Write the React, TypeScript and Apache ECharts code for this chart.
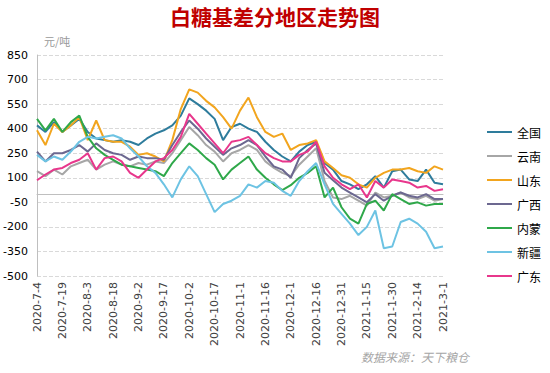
import React, { useEffect, useRef } from 'react';
import * as echarts from 'echarts';

const titleText = '白糖基差分地区走势图';
const unitText = '元/吨';
const sourceText = '数据来源：天下粮仓';
const startDate = '2020-07-04';
const endDate = '2021-03-01';

const dates = [
  '2020-07-04', '2020-07-09', '2020-07-14', '2020-07-19', '2020-07-24', '2020-07-29',
  '2020-08-03', '2020-08-08', '2020-08-13', '2020-08-18', '2020-08-23', '2020-08-28',
  '2020-09-02', '2020-09-07', '2020-09-12', '2020-09-17', '2020-09-22', '2020-09-27',
  '2020-10-02', '2020-10-07', '2020-10-12', '2020-10-17', '2020-10-22', '2020-10-27',
  '2020-11-01', '2020-11-06', '2020-11-11', '2020-11-16', '2020-11-21', '2020-11-26',
  '2020-12-01', '2020-12-06', '2020-12-11', '2020-12-16', '2020-12-21', '2020-12-26',
  '2020-12-31', '2021-01-05', '2021-01-10', '2021-01-15', '2021-01-20', '2021-01-25',
  '2021-01-30', '2021-02-04', '2021-02-09', '2021-02-14', '2021-02-19', '2021-02-24',
  '2021-03-01',
];

const seriesNames = ['全国', '云南', '山东', '广西', '内蒙', '新疆', '广东'];
const seriesColors = ['#2E7C9C', '#A6A6A6', '#F2A51E', '#6C6890', '#2FA84A', '#6DC3E3', '#E8378C'];

const quanguo = [420, 380, 440, 380, 420, 460, 380, 340, 330, 320, 330, 320, 300, 340, 370, 390, 420, 480, 585, 550, 510, 460, 330, 410, 430, 400, 380, 320, 270, 230, 200, 260, 300, 320, 190, 150, 80, 60, 30, 60, 110, 40, 140, 150, 90, 80, 150, 70, 60];
const yunnan = [140, 110, 150, 120, 170, 190, 210, 150, 180, 200, 180, 170, 190, 180, 200, 190, 250, 330, 410, 360, 300, 260, 200, 250, 270, 300, 270, 200, 160, 130, 110, 180, 230, 280, 80, -20, -30, -10, -40, -70, 10, -20, -10, 10, -20, -30, -10, -40, -30];
const shandong = [390, 300, 430, 380, 420, 470, 330, 450, 330, 320, 320, 290, 240, 250, 230, 200, 330, 520, 640, 620, 570, 530, 470, 400, 510, 590, 470, 380, 350, 370, 270, 300, 310, 330, 200, 160, 115, 100, 60, 40, 100, 130, 150, 150, 160, 140, 130, 170, 150];
const guangxi = [260, 200, 250, 250, 270, 300, 260, 310, 270, 250, 240, 210, 230, 220, 220, 210, 300, 380, 450, 400, 340, 290, 240, 280, 300, 330, 300, 230, 170, 150, 100, 220, 270, 310, 130, 85, 40, 10, -20, -50, 0, -40, -10, 10, -10, -20, 0, -30, -30];
const neimeng = [460, 390, 460, 380, 440, 480, 350, 280, 240, 210, 180, 170, 160, 150, 140, 110, 190, 250, 310, 270, 220, 180, 90, 150, 190, 230, 150, 100, 60, 25, 55, 100, 130, 170, -20, 40, -80, -150, -180, -60, -40, -100, 0, -30, -60, -50, -70, -60, -60];
const xinjiang = [240, 200, 230, 210, 260, 320, 350, 340, 350, 360, 340, 280, 230, 170, 130, 60, -20, 90, 170, 110, 0, -110, -60, -40, -10, 60, 40, 80, 70, 20, -10, 80, 140, 190, 60, -60, -120, -180, -250, -200, -100, -330, -320, -170, -150, -180, -230, -330, -320];
const guangdong = [85, 120, 150, 160, 190, 210, 250, 150, 220, 230, 200, 130, 100, 150, 200, 220, 270, 350, 490, 430, 370, 310, 250, 320, 330, 350, 300, 250, 220, 200, 200, 240, 260, 320, 170, 100, 60, 30, 60, -20, 80, 40, 90, 80, 70, 40, 50, 20, 30];

const seriesValues = [quanguo, yunnan, shandong, guangxi, neimeng, xinjiang, guangdong];

const yMin = -500;
const yMax = 850;
const yStep = 150;
const xStepDays = 15;

const DAY = 86400000;
const t0 = Date.parse(startDate + 'T00:00:00Z');
const dayIndex = (s: string) => Math.round((Date.parse(s + 'T00:00:00Z') - t0) / DAY);
const fmtDay = (d: number) => {
  const dt = new Date(t0 + d * DAY);
  return `${dt.getUTCFullYear()}-${dt.getUTCMonth() + 1}-${dt.getUTCDate()}`;
};

export default function App() {
  const ref = useRef<HTMLDivElement>(null);
  useEffect(() => {
    if (!ref.current) return;
    const chart = echarts.init(ref.current, undefined, { renderer: 'svg' });
    const xMax = dayIndex(endDate);
    chart.setOption({
      animation: false,
      backgroundColor: '#ffffff',
      title: {
        text: titleText,
        left: 'center',
        top: 0,
        textStyle: {
          color: '#C00000',
          fontSize: 21,
          fontWeight: 'bold',
          fontFamily: 'Noto Sans CJK SC',
        },
      },
      graphic: [
        {
          type: 'text',
          left: 44,
          top: 35,
          style: { text: unitText, fill: '#999999', fontSize: 11, fontFamily: 'Noto Sans CJK SC' },
        },
        {
          type: 'text',
          left: 361,
          top: 350,
          style: {
            text: sourceText,
            fill: '#A6A6A6',
            fontSize: 12,
            fontStyle: 'italic',
            fontFamily: 'Noto Sans CJK SC',
          },
        },
      ],
      legend: {
        orient: 'vertical',
        left: 487,
        top: 125,
        padding: 0,
        itemWidth: 25,
        itemHeight: 2,
        itemGap: 10,
        icon: 'rect',
        data: seriesNames,
        textStyle: { color: '#000', fontSize: 12, lineHeight: 14, fontFamily: 'Noto Sans CJK SC' },
      },
      grid: {
        left: 37,
        right: 107,
        top: 55,
        bottom: 97,
        containLabel: false,
        outerBoundsMode: 'none',
      },
      xAxis: {
        type: 'value',
        min: 0,
        max: xMax,
        interval: xStepDays,
        axisLine: { show: true, lineStyle: { color: '#BFBFBF' } },
        axisTick: { show: false },
        splitLine: { show: false },
        axisLabel: {
          rotate: 90,
          formatter: (v: number) => fmtDay(v),
          color: '#404040',
          fontSize: 11,
          fontFamily: 'DejaVu Sans',
          margin: 6,
        },
      },
      yAxis: {
        type: 'value',
        min: yMin,
        max: yMax,
        interval: yStep,
        axisLine: { show: true, lineStyle: { color: '#BFBFBF' } },
        axisTick: { show: false },
        splitLine: { show: true, lineStyle: { color: '#D9D9D9', type: 'dashed' } },
        axisLabel: {
          color: '#000',
          fontSize: 11,
          fontFamily: 'DejaVu Sans',
          margin: 9,
        },
      },
      series: seriesNames.map((name, i) => ({
        name,
        type: 'line',
        showSymbol: false,
        symbol: 'none',
        color: seriesColors[i],
        lineStyle: { width: 2, color: seriesColors[i] },
        data: dates.map((d, j) => [dayIndex(d), seriesValues[i][j]]),
      })),
    });
    return () => chart.dispose();
  }, []);
  return (
    <div
      ref={ref}
      style={{ position: 'fixed', left: 0, top: 0, width: 550, height: 373 }}
    />
  );
}
